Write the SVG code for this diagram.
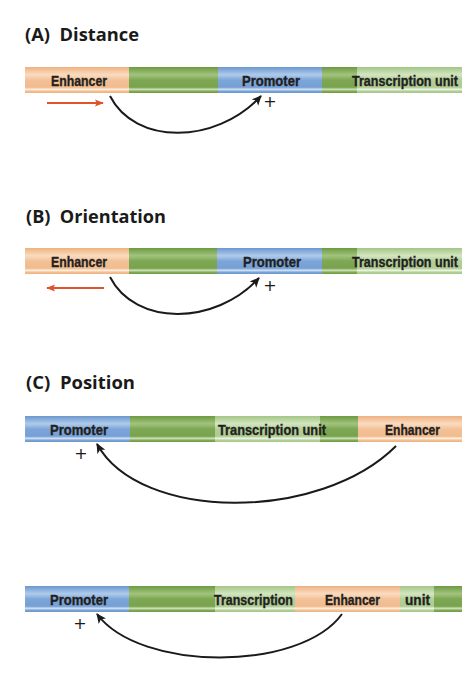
<svg xmlns="http://www.w3.org/2000/svg" width="475" height="682" viewBox="0 0 475 682">
<defs>
<linearGradient id="gO" x1="0" y1="0" x2="0" y2="1">
<stop offset="0" stop-color="#eeb181"/><stop offset="0.3" stop-color="#fadcc0"/><stop offset="0.5" stop-color="#f3c198"/><stop offset="0.78" stop-color="#f1bb8d"/><stop offset="0.86" stop-color="#fdf0e4"/><stop offset="0.93" stop-color="#f2c090"/><stop offset="1" stop-color="#eeb181"/>
</linearGradient>
<linearGradient id="gD" x1="0" y1="0" x2="0" y2="1">
<stop offset="0" stop-color="#6c9a40"/><stop offset="0.3" stop-color="#a2c47e"/><stop offset="0.5" stop-color="#7ea753"/><stop offset="0.78" stop-color="#78a34d"/><stop offset="0.86" stop-color="#cfe2bc"/><stop offset="0.93" stop-color="#84ab5a"/><stop offset="1" stop-color="#6c9a40"/>
</linearGradient>
<linearGradient id="gL" x1="0" y1="0" x2="0" y2="1">
<stop offset="0" stop-color="#a3c586"/><stop offset="0.3" stop-color="#d3e6c0"/><stop offset="0.5" stop-color="#b2cf98"/><stop offset="0.78" stop-color="#aecb93"/><stop offset="0.86" stop-color="#ecf5e3"/><stop offset="0.93" stop-color="#b4d09a"/><stop offset="1" stop-color="#a3c586"/>
</linearGradient>
<linearGradient id="gB" x1="0" y1="0" x2="0" y2="1">
<stop offset="0" stop-color="#6a97ce"/><stop offset="0.3" stop-color="#b0cbeb"/><stop offset="0.5" stop-color="#7ca6d9"/><stop offset="0.78" stop-color="#76a0d5"/><stop offset="0.86" stop-color="#d3e2f4"/><stop offset="0.93" stop-color="#7ca4d5"/><stop offset="1" stop-color="#6a97ce"/>
</linearGradient>
<marker id="ah" viewBox="0 0 10 10" refX="9" refY="5" markerWidth="10" markerHeight="10" markerUnits="userSpaceOnUse" orient="auto">
<path d="M0,0.5 L10,5 L0,9.5 L2.5,5 Z" fill="#1a1a1a"/>
</marker>
<marker id="ahr" viewBox="0 0 10 10" refX="9" refY="5" markerWidth="9" markerHeight="9" markerUnits="userSpaceOnUse" orient="auto">
<path d="M0,1 L10,5 L0,9 L2,5 Z" fill="#e0532b"/>
</marker>
</defs>
<style>
.t{font-family:"Open Sans","DejaVu Sans",sans-serif;font-weight:bold;font-size:18px;fill:#1a1a1a;white-space:pre}
.l{font-family:"Liberation Sans",Arial,sans-serif;font-weight:bold;font-size:15px;fill:#231f20;stroke:#231f20;stroke-width:0.35}
.p{font-family:"DejaVu Sans","Liberation Sans",sans-serif;font-size:16px;fill:#1a1a1a;text-anchor:middle}
.c{fill:none;stroke:#1a1a1a;stroke-width:2;marker-end:url(#ah)}
.r{fill:none;stroke:#e0532b;stroke-width:1.8;marker-end:url(#ahr)}
</style>

<text class="t" x="25" y="41" textLength="114" lengthAdjust="spacingAndGlyphs">(A)  Distance</text>
<text class="t" x="26" y="223" textLength="140" lengthAdjust="spacingAndGlyphs">(B)  Orientation</text>
<text class="t" x="26" y="389" textLength="109" lengthAdjust="spacingAndGlyphs">(C)  Position</text>

<g id="A-enhancer"><rect x="25" y="67" width="104" height="26" fill="url(#gO)"/><text class="l" x="51" y="86" textLength="56" lengthAdjust="spacingAndGlyphs">Enhancer</text></g>
<g id="A-spacer"><rect x="129" y="67" width="89" height="26" fill="url(#gD)"/></g>
<g id="A-promoter"><rect x="218" y="67" width="104" height="26" fill="url(#gB)"/><text class="l" x="242" y="86" textLength="58" lengthAdjust="spacingAndGlyphs">Promoter</text></g>
<g id="A-unit"><rect x="322" y="67" width="35" height="26" fill="url(#gD)"/><rect x="357" y="67" width="105" height="26" fill="url(#gL)"/><text class="l" x="352" y="86" textLength="106" lengthAdjust="spacingAndGlyphs">Transcription unit</text></g>
<text class="p" x="270" y="107">+</text>

<g id="B-enhancer"><rect x="25" y="248" width="104" height="26" fill="url(#gO)"/><text class="l" x="51" y="267" textLength="56" lengthAdjust="spacingAndGlyphs">Enhancer</text></g>
<g id="B-spacer"><rect x="129" y="248" width="88" height="26" fill="url(#gD)"/></g>
<g id="B-promoter"><rect x="217" y="248" width="105" height="26" fill="url(#gB)"/><text class="l" x="243" y="267" textLength="58" lengthAdjust="spacingAndGlyphs">Promoter</text></g>
<g id="B-unit"><rect x="322" y="248" width="35" height="26" fill="url(#gD)"/><rect x="357" y="248" width="105" height="26" fill="url(#gL)"/><text class="l" x="352" y="267" textLength="106" lengthAdjust="spacingAndGlyphs">Transcription unit</text></g>
<text class="p" x="270" y="291">+</text>

<g id="C-promoter"><rect x="25" y="416" width="105" height="26" fill="url(#gB)"/><text class="l" x="50" y="435" textLength="58" lengthAdjust="spacingAndGlyphs">Promoter</text></g>
<g id="C-unit"><rect x="130" y="416" width="85" height="26" fill="url(#gD)"/><rect x="215" y="416" width="105" height="26" fill="url(#gL)"/><rect x="320" y="416" width="38" height="26" fill="url(#gD)"/><text class="l" x="218" y="435" textLength="108" lengthAdjust="spacingAndGlyphs">Transcription unit</text></g>
<g id="C-enhancer"><rect x="358" y="416" width="104" height="26" fill="url(#gO)"/><text class="l" x="385" y="435" textLength="55" lengthAdjust="spacingAndGlyphs">Enhancer</text></g>
<text class="p" x="81" y="459">+</text>

<g id="D-promoter"><rect x="25" y="586" width="104" height="26" fill="url(#gB)"/><text class="l" x="50" y="605" textLength="58" lengthAdjust="spacingAndGlyphs">Promoter</text></g>
<g id="D-unit-a"><rect x="129" y="586" width="86" height="26" fill="url(#gD)"/><rect x="215" y="586" width="80" height="26" fill="url(#gL)"/><text class="l" x="214" y="605" textLength="79" lengthAdjust="spacingAndGlyphs">Transcription</text></g>
<g id="D-enhancer"><rect x="295" y="586" width="105" height="26" fill="url(#gO)"/><text class="l" x="325" y="605" textLength="55" lengthAdjust="spacingAndGlyphs">Enhancer</text></g>
<g id="D-unit-b"><rect x="400" y="586" width="34" height="26" fill="url(#gL)"/><rect x="434" y="586" width="28" height="26" fill="url(#gD)"/><text class="l" x="405" y="605" textLength="25" lengthAdjust="spacingAndGlyphs">unit</text></g>
<text class="p" x="80" y="629">+</text>

<g id="connectors">
<path class="r" d="M47,103 L103,103"/>
<path class="c" d="M110,96 C135,145 215,145 261,96"/>
<path class="r" d="M104,288 L47,288"/>
<path class="c" d="M110,277 C135,326 215,326 259,278"/>
<path class="c" d="M396,446 C320,522 140,522 97,444"/>
<path class="c" d="M342,614 C300,672 140,672 97,614"/>
</g>
</svg>
